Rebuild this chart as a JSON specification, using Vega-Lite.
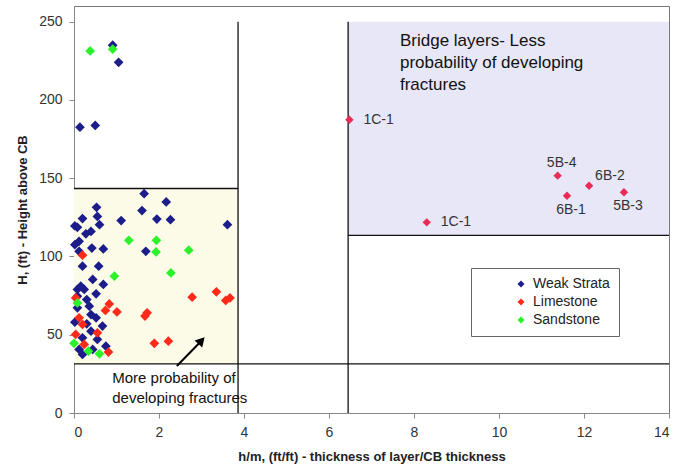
{
  "$schema": "https://vega.github.io/schema/vega-lite/v6.json",
  "width": 675,
  "height": 466,
  "autosize": {"type": "fit", "contains": "padding"},
  "padding": {"left": 16, "top": 6, "right": 5, "bottom": 3},
  "background": "white",
  "config": {
    "font": "Liberation Sans",
    "view": {"stroke": "#777", "strokeWidth": 1},
    "axis": {
      "grid": false,
      "domainColor": "#888",
      "tickColor": "#888",
      "labelFontSize": 14,
      "labelColor": "#333",
      "titleFontSize": 13,
      "titleFontWeight": "bold",
      "titleColor": "#222",
      "labelFont": "Liberation Sans",
      "titleFont": "Liberation Sans"
    }
  },
  "datasets": {
    "zones": [
      {"zone": "bridge", "x": 6.45, "x2": 14, "y": 113.5, "y2": 250},
      {"zone": "fracture", "x": 0, "x2": 3.86, "y": 31.4, "y2": 143.4}
    ],
    "dividers": [
      {"x": 3.86, "x2": 3.86, "y": 0, "y2": 250},
      {"x": 6.45, "x2": 6.45, "y": 0, "y2": 250},
      {"x": 0, "x2": 3.86, "y": 143.4, "y2": 143.4},
      {"x": 6.45, "x2": 14, "y": 113.5, "y2": 113.5},
      {"x": 0, "x2": 14, "y": 31.4, "y2": 31.4}
    ],
    "points": [
      {"type": "Weak Strata", "hm": 0.91, "H": 235},
      {"type": "Weak Strata", "hm": 1.05, "H": 224},
      {"type": "Weak Strata", "hm": 0.14, "H": 182.6},
      {"type": "Weak Strata", "hm": 0.5, "H": 183.7},
      {"type": "Weak Strata", "hm": 1.65, "H": 140.1},
      {"type": "Weak Strata", "hm": 2.17, "H": 134.8},
      {"type": "Weak Strata", "hm": 1.6, "H": 129.3},
      {"type": "Weak Strata", "hm": 0.53, "H": 131.4},
      {"type": "Weak Strata", "hm": 0.55, "H": 125.6},
      {"type": "Weak Strata", "hm": 1.11, "H": 122.9},
      {"type": "Weak Strata", "hm": 1.95, "H": 123.9},
      {"type": "Weak Strata", "hm": 2.27, "H": 123.5},
      {"type": "Weak Strata", "hm": 3.61, "H": 120.3},
      {"type": "Weak Strata", "hm": 0.6, "H": 120.3},
      {"type": "Weak Strata", "hm": 0.2, "H": 124.2},
      {"type": "Weak Strata", "hm": 0.08, "H": 118.6},
      {"type": "Weak Strata", "hm": 0.02, "H": 119.5},
      {"type": "Weak Strata", "hm": 0.4, "H": 116},
      {"type": "Weak Strata", "hm": 0.28, "H": 114.5},
      {"type": "Weak Strata", "hm": 0.12, "H": 109.7},
      {"type": "Weak Strata", "hm": 0.02, "H": 107.5},
      {"type": "Weak Strata", "hm": 0.12, "H": 103.3},
      {"type": "Weak Strata", "hm": 0.42, "H": 105.4},
      {"type": "Weak Strata", "hm": 0.69, "H": 104.8},
      {"type": "Weak Strata", "hm": 1.69, "H": 103.3},
      {"type": "Weak Strata", "hm": 0.2, "H": 93.8},
      {"type": "Weak Strata", "hm": 0.58, "H": 93.8},
      {"type": "Weak Strata", "hm": 0.44, "H": 85.3},
      {"type": "Weak Strata", "hm": 0.69, "H": 82.1},
      {"type": "Weak Strata", "hm": 0.08, "H": 78.9},
      {"type": "Weak Strata", "hm": 0.24, "H": 78.9},
      {"type": "Weak Strata", "hm": 0.16, "H": 81},
      {"type": "Weak Strata", "hm": 0.52, "H": 76.1},
      {"type": "Weak Strata", "hm": 0.08, "H": 74.6},
      {"type": "Weak Strata", "hm": 0.3, "H": 72.5},
      {"type": "Weak Strata", "hm": 0.36, "H": 68.2},
      {"type": "Weak Strata", "hm": 0.08, "H": 67.2},
      {"type": "Weak Strata", "hm": 0.4, "H": 62.9},
      {"type": "Weak Strata", "hm": 0.52, "H": 60.8},
      {"type": "Weak Strata", "hm": 0.67, "H": 55.5},
      {"type": "Weak Strata", "hm": 0.4, "H": 52.3},
      {"type": "Weak Strata", "hm": 0.2, "H": 48},
      {"type": "Weak Strata", "hm": 0.55, "H": 47},
      {"type": "Weak Strata", "hm": 0.75, "H": 42.7},
      {"type": "Weak Strata", "hm": 0.12, "H": 40.6},
      {"type": "Weak Strata", "hm": 0.44, "H": 40.6},
      {"type": "Weak Strata", "hm": 0.2, "H": 37.4},
      {"type": "Weak Strata", "hm": 0.02, "H": 58},
      {"type": "Weak Strata", "hm": 0.3, "H": 57},
      {"type": "Limestone", "hm": 0.2, "H": 100.8},
      {"type": "Limestone", "hm": 0.04, "H": 73.5},
      {"type": "Limestone", "hm": 0.83, "H": 69.7},
      {"type": "Limestone", "hm": 0.74, "H": 65.5},
      {"type": "Limestone", "hm": 1.01, "H": 64.6},
      {"type": "Limestone", "hm": 1.72, "H": 64},
      {"type": "Limestone", "hm": 1.67, "H": 61.9},
      {"type": "Limestone", "hm": 2.78, "H": 74},
      {"type": "Limestone", "hm": 3.35, "H": 77.4},
      {"type": "Limestone", "hm": 3.57, "H": 71.9},
      {"type": "Limestone", "hm": 3.67, "H": 73.5},
      {"type": "Limestone", "hm": 0.12, "H": 60.8},
      {"type": "Limestone", "hm": 0.2, "H": 56.6},
      {"type": "Limestone", "hm": 0.04, "H": 50.2},
      {"type": "Limestone", "hm": 0.55, "H": 51.2},
      {"type": "Limestone", "hm": 1.89, "H": 44.5},
      {"type": "Limestone", "hm": 2.22, "H": 45.9},
      {"type": "Limestone", "hm": 0.81, "H": 38.9},
      {"type": "Limestone", "hm": 0.24, "H": 43.8},
      {"type": "Sandstone", "hm": 0.38, "H": 231.3},
      {"type": "Sandstone", "hm": 0.91, "H": 232.4},
      {"type": "Sandstone", "hm": 1.29, "H": 110.3},
      {"type": "Sandstone", "hm": 1.94, "H": 110.3},
      {"type": "Sandstone", "hm": 1.93, "H": 102.9},
      {"type": "Sandstone", "hm": 2.7, "H": 104},
      {"type": "Sandstone", "hm": 0.95, "H": 87.4},
      {"type": "Sandstone", "hm": 2.28, "H": 89.5},
      {"type": "Sandstone", "hm": 0.08, "H": 70.3},
      {"type": "Sandstone", "hm": 0.0, "H": 44.5},
      {"type": "Sandstone", "hm": 0.34, "H": 39.5},
      {"type": "Sandstone", "hm": 0.6, "H": 37.8}
    ],
    "bridges": [
      {"id": "1C-1", "spot": "right", "hm": 6.48, "H": 187.3},
      {"id": "1C-1", "spot": "right", "hm": 8.3, "H": 121.8},
      {"id": "5B-4", "spot": "above", "hm": 11.38, "H": 151.6},
      {"id": "6B-2", "spot": "upright", "hm": 12.12, "H": 145.2},
      {"id": "6B-1", "spot": "below", "hm": 11.6, "H": 138.8},
      {"id": "5B-3", "spot": "below", "hm": 12.94, "H": 141}
    ],
    "notes": [
      {"note": "bridge", "x": 7.67, "y": 242.5, "text": ["Bridge layers- Less", "probability of developing", "fractures"]},
      {"note": "fracture", "x": 0.9, "y": 27, "text": ["More probability of", "developing fractures"]}
    ],
    "arrow": [
      {"x": 2.42, "x2": 3.0, "y": 30, "y2": 46.2}
    ]
  },
  "layer": [
    {
      "data": {"name": "zones"},
      "transform": [{"filter": "datum.zone === 'bridge'"}],
      "mark": {"type": "rect", "color": "#e7e7f7"},
      "encoding": {
        "x": {"field": "x", "type": "quantitative", "scale": {"domain": [0, 14]},
              "axis": {"values": [0, 2, 4, 6, 8, 10, 12, 14], "title": "h/m, (ft/ft)  - thickness of layer/CB thickness", "titlePadding": 11, "labelPadding": 7}},
        "x2": {"field": "x2"},
        "y": {"field": "y", "type": "quantitative", "scale": {"domain": [0, 250]},
              "axis": {"values": [0, 50, 100, 150, 200, 250], "title": "H, (ft) - Height above CB", "titlePadding": 9, "labelPadding": 7}},
        "y2": {"field": "y2"}
      }
    },
    {
      "data": {"name": "zones"},
      "transform": [{"filter": "datum.zone === 'fracture'"}],
      "mark": {"type": "rect", "color": "#fbfbe8"},
      "encoding": {
        "x": {"field": "x", "type": "quantitative"},
        "x2": {"field": "x2"},
        "y": {"field": "y", "type": "quantitative"},
        "y2": {"field": "y2"}
      }
    },
    {
      "data": {"name": "dividers"},
      "mark": {"type": "rule", "color": "#111", "strokeWidth": 1.3},
      "encoding": {
        "x": {"field": "x", "type": "quantitative"},
        "x2": {"field": "x2"},
        "y": {"field": "y", "type": "quantitative"},
        "y2": {"field": "y2"}
      }
    },
    {
      "data": {"name": "points"},
      "mark": {"type": "point", "shape": "diamond", "filled": true, "size": 95, "opacity": 1},
      "encoding": {
        "x": {"field": "hm", "type": "quantitative"},
        "y": {"field": "H", "type": "quantitative"},
        "color": {
          "field": "type", "type": "nominal",
          "scale": {"domain": ["Weak Strata", "Limestone", "Sandstone"], "range": ["#1c1c8a", "#ff2a1a", "#2cf22c"]},
          "legend": {
            "title": null, "orient": "none", "legendX": 397, "legendY": 262,
            "strokeColor": "#666", "padding": 9, "symbolOffset": 34,
            "symbolType": "diamond", "symbolSize": 50, "labelFontSize": 14,
            "labelColor": "#222", "labelOffset": 5, "rowPadding": 4,
            "fillColor": "white"
          }
        }
      }
    },
    {
      "data": {"name": "bridges"},
      "mark": {"type": "point", "shape": "diamond", "filled": true, "size": 70, "color": "#ea2b55", "opacity": 1},
      "encoding": {
        "x": {"field": "hm", "type": "quantitative"},
        "y": {"field": "H", "type": "quantitative"}
      }
    },
    {
      "data": {"name": "bridges"},
      "transform": [{"filter": "datum.spot === 'right'"}],
      "mark": {"type": "text", "align": "left", "baseline": "middle", "dx": 14, "fontSize": 14, "color": "#333"},
      "encoding": {
        "x": {"field": "hm", "type": "quantitative"},
        "y": {"field": "H", "type": "quantitative"},
        "text": {"field": "id"}
      }
    },
    {
      "data": {"name": "bridges"},
      "transform": [{"filter": "datum.spot === 'above'"}],
      "mark": {"type": "text", "align": "center", "baseline": "middle", "dx": 4, "dy": -13, "fontSize": 14, "color": "#333"},
      "encoding": {
        "x": {"field": "hm", "type": "quantitative"},
        "y": {"field": "H", "type": "quantitative"},
        "text": {"field": "id"}
      }
    },
    {
      "data": {"name": "bridges"},
      "transform": [{"filter": "datum.spot === 'upright'"}],
      "mark": {"type": "text", "align": "left", "baseline": "middle", "dx": 6, "dy": -10, "fontSize": 14, "color": "#333"},
      "encoding": {
        "x": {"field": "hm", "type": "quantitative"},
        "y": {"field": "H", "type": "quantitative"},
        "text": {"field": "id"}
      }
    },
    {
      "data": {"name": "bridges"},
      "transform": [{"filter": "datum.spot === 'below'"}],
      "mark": {"type": "text", "align": "center", "baseline": "middle", "dx": 4, "dy": 14, "fontSize": 14, "color": "#333"},
      "encoding": {
        "x": {"field": "hm", "type": "quantitative"},
        "y": {"field": "H", "type": "quantitative"},
        "text": {"field": "id"}
      }
    },
    {
      "data": {"name": "notes"},
      "transform": [{"filter": "datum.note === 'bridge'"}],
      "mark": {"type": "text", "align": "left", "baseline": "top", "fontSize": 17, "lineHeight": 22, "color": "#111"},
      "encoding": {
        "x": {"field": "x", "type": "quantitative"},
        "y": {"field": "y", "type": "quantitative"},
        "text": {"field": "text"}
      }
    },
    {
      "data": {"name": "notes"},
      "transform": [{"filter": "datum.note === 'fracture'"}],
      "mark": {"type": "text", "align": "left", "baseline": "top", "fontSize": 15, "lineHeight": 20, "color": "#111"},
      "encoding": {
        "x": {"field": "x", "type": "quantitative"},
        "y": {"field": "y", "type": "quantitative"},
        "text": {"field": "text"}
      }
    },
    {
      "data": {"name": "arrow"},
      "mark": {"type": "rule", "color": "#000", "strokeWidth": 2},
      "encoding": {
        "x": {"field": "x", "type": "quantitative"},
        "x2": {"field": "x2"},
        "y": {"field": "y", "type": "quantitative"},
        "y2": {"field": "y2"}
      }
    },
    {
      "data": {"name": "arrow"},
      "mark": {"type": "point", "shape": "triangle-up", "filled": true, "size": 110, "color": "#000", "angle": 43, "opacity": 1},
      "encoding": {
        "x": {"field": "x2", "type": "quantitative"},
        "y": {"field": "y2", "type": "quantitative"}
      }
    }
  ]
}
